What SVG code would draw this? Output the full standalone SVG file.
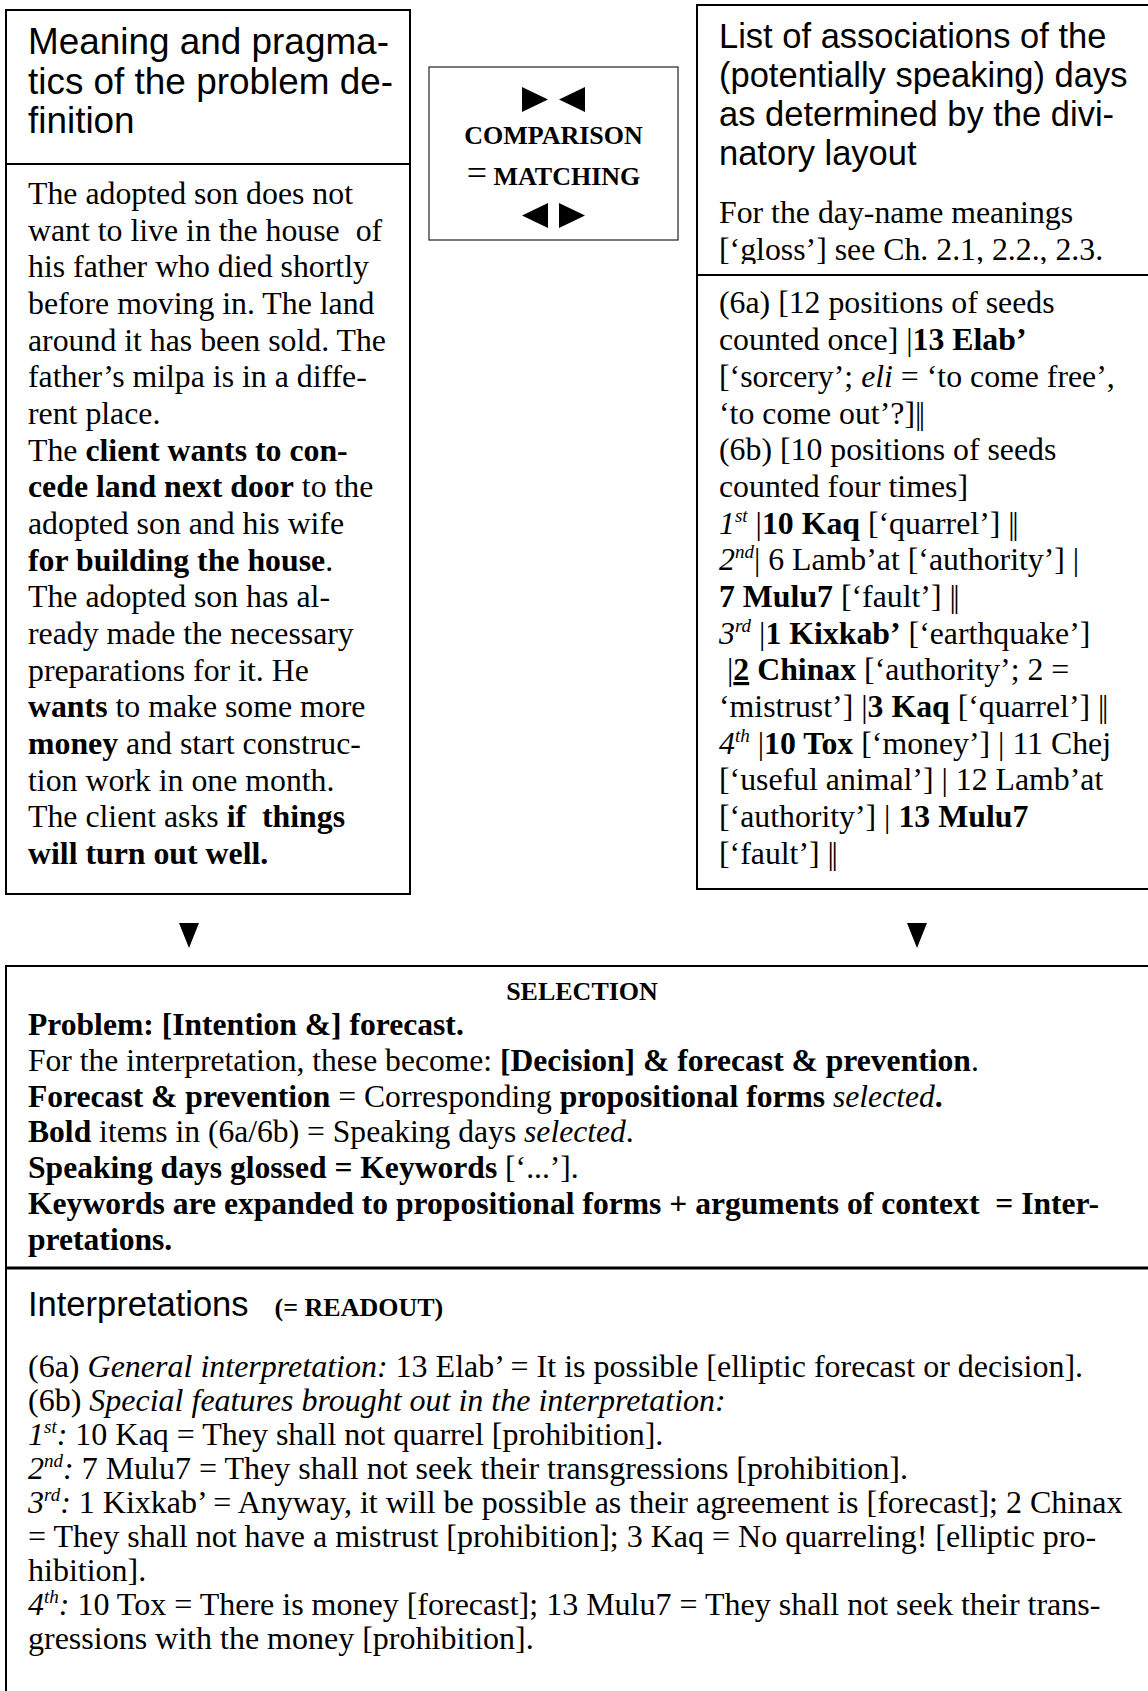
<svg xmlns="http://www.w3.org/2000/svg" width="1148" height="1691" viewBox="0 0 1148 1691">
<style>
.box{fill:#fff;stroke:#000;stroke-width:2}
.thin{fill:#fff;stroke:#222;stroke-width:1.2}
.hd{font-family:"Liberation Sans",Arial,sans-serif;fill:#000}
.tx{font-family:"Liberation Serif","Times New Roman",serif;font-size:31.8px;fill:#000}
.bt{font-family:"Liberation Serif","Times New Roman",serif;font-size:32px;fill:#000}
.st{font-family:"Liberation Serif","Times New Roman",serif;font-size:31.6px;fill:#000}
.b{font-weight:bold}
.i{font-style:italic}
.bar{font-weight:normal;font-style:normal}
.dbl{font-weight:normal;font-style:normal;letter-spacing:-2.5px}
.cap{font-family:"Liberation Serif","Times New Roman",serif;font-weight:bold;font-size:26px;fill:#000}
.sup{font-style:italic;font-size:19px}
.tri{fill:#000}
</style>
<defs>
<clipPath id="clipGloss"><rect x="690" y="170" width="460" height="94"/></clipPath>
</defs>

<g id="problem-definition">
<rect class="box" x="6" y="10" width="404" height="884"/>
<line x1="6" y1="164" x2="410" y2="164" stroke="#000" stroke-width="2"/>
<text class="hd" font-size="36.9" x="28" y="54">Meaning and pragma-</text>
<text class="hd" font-size="36.9" x="28" y="94">tics of the problem de-</text>
<text class="hd" font-size="36.9" x="28" y="133">finition</text>
<text class="tx" x="28" y="204">The adopted son does not</text>
<text class="tx" x="28" y="240.7">want to live in the house&#160; of</text>
<text class="tx" x="28" y="277.3">his father who died shortly</text>
<text class="tx" x="28" y="314">before moving in. The land</text>
<text class="tx" x="28" y="350.7">around it has been sold. The</text>
<text class="tx" x="28" y="387.3">father’s milpa is in a diffe-</text>
<text class="tx" x="28" y="424">rent place.</text>
<text class="tx" x="28" y="460.7">The <tspan class="b">client wants to con-</tspan></text>
<text class="tx" x="28" y="497.3"><tspan class="b">cede land next door</tspan> to the</text>
<text class="tx" x="28" y="534">adopted son and his wife</text>
<text class="tx" x="28" y="570.7"><tspan class="b">for building the house</tspan>.</text>
<text class="tx" x="28" y="607.3">The adopted son has al-</text>
<text class="tx" x="28" y="644">ready made the necessary</text>
<text class="tx" x="28" y="680.7">preparations for it. He</text>
<text class="tx" x="28" y="717.3"><tspan class="b">wants</tspan> to make some more</text>
<text class="tx" x="28" y="754"><tspan class="b">money</tspan> and start construc-</text>
<text class="tx" x="28" y="790.7">tion work in one month.</text>
<text class="tx" x="28" y="827.3">The client asks <tspan class="b">if&#160; things</tspan></text>
<text class="tx" x="28" y="864"><tspan class="b">will turn out well.</tspan></text>
</g>

<g id="comparison">
<rect class="thin" x="429" y="67" width="249" height="173"/>
<polygon class="tri" points="522,87 548,99.5 522,112"/>
<polygon class="tri" points="585,87 559,99.5 585,112"/>
<text class="cap" text-anchor="middle" x="553.5" y="144">COMPARISON</text>
<text class="cap" text-anchor="middle" x="553.5" y="185"><tspan font-weight="normal" font-size="36">=</tspan> MATCHING</text>
<polygon class="tri" points="548,203 522,215.5 548,228"/>
<polygon class="tri" points="559,203 585,215.5 559,228"/>
</g>

<g id="associations">
<rect class="box" x="697" y="5" width="460" height="884"/>
<line x1="697" y1="275" x2="1150" y2="275" stroke="#000" stroke-width="2"/>
<text class="hd" font-size="34.5" x="719" y="48">List of associations of the</text>
<text class="hd" font-size="34.5" x="719" y="87">(potentially speaking) days</text>
<text class="hd" font-size="34.5" x="719" y="126">as determined by the divi-</text>
<text class="hd" font-size="34.5" x="719" y="165">natory layout</text>
<text class="tx" x="719" y="223">For the day-name meanings</text>
<g clip-path="url(#clipGloss)">
<text class="tx" x="719" y="260">[‘gloss’] see Ch. 2.1, 2.2., 2.3.</text>
</g>
<text class="tx" x="719" y="313">(6a) [12 positions of seeds</text>
<text class="tx" x="719" y="350">counted once] <tspan class="bar">|</tspan><tspan class="b">13 Elab’</tspan></text>
<text class="tx" x="719" y="387">[‘sorcery’; <tspan class="i">eli</tspan> = ‘to come free’,</text>
<text class="tx" x="719" y="423.5">‘to come out’?]<tspan class="dbl">||</tspan></text>
<text class="tx" x="719" y="460">(6b) [10 positions of seeds</text>
<text class="tx" x="719" y="497">counted four times]</text>
<text class="tx" x="719" y="533.5"><tspan class="i">1</tspan><tspan class="sup" dy="-12">st</tspan><tspan dy="12"> </tspan><tspan class="bar">|</tspan><tspan class="b">10 Kaq</tspan> [‘quarrel’] <tspan class="dbl">||</tspan></text>
<text class="tx" x="719" y="570"><tspan class="i">2</tspan><tspan class="sup" dy="-12">nd</tspan><tspan class="bar" dy="12">|</tspan> 6 Lamb’at [‘authority’] <tspan class="bar">|</tspan></text>
<text class="tx" x="719" y="607"><tspan class="b">7 Mulu7</tspan> [‘fault’] <tspan class="dbl">||</tspan></text>
<text class="tx" x="719" y="643.5"><tspan class="i">3</tspan><tspan class="sup" dy="-12">rd</tspan><tspan dy="12"> </tspan><tspan class="bar">|</tspan><tspan class="b">1 Kixkab’</tspan> [‘earthquake’]</text>
<text class="tx" x="719" y="680"><tspan class="bar">&#160;|</tspan><tspan class="b" text-decoration="underline">2</tspan><tspan class="b"> Chinax</tspan> [‘authority’; 2 =</text>
<text class="tx" x="719" y="717">‘mistrust’] <tspan class="bar">|</tspan><tspan class="b">3 Kaq</tspan> [‘quarrel’] <tspan class="dbl">||</tspan></text>
<text class="tx" x="719" y="753.5"><tspan class="i">4</tspan><tspan class="sup" dy="-12">th</tspan><tspan dy="12"> </tspan><tspan class="bar">|</tspan><tspan class="b">10 Tox</tspan> [‘money’] <tspan class="bar">|</tspan> 11 Chej</text>
<text class="tx" x="719" y="790">[‘useful animal’] <tspan class="bar">|</tspan> 12 Lamb’at</text>
<text class="tx" x="719" y="827">[‘authority’] <tspan class="bar">|</tspan> <tspan class="b">13 Mulu7</tspan></text>
<text class="tx" x="719" y="863.5">[‘fault’] <tspan class="dbl">||</tspan></text>
</g>

<g id="connectors">
<polygon class="tri" points="179,923 199,923 189,948"/>
<polygon class="tri" points="907,923 927,923 917,948"/>
</g>

<g id="selection">
<rect class="box" x="6" y="966" width="1150" height="740" stroke-width="2.5"/>
<line x1="6" y1="1268" x2="1150" y2="1268" stroke="#000" stroke-width="3"/>
<text class="cap" text-anchor="middle" x="582" y="1000">SELECTION</text>
<text class="st b" x="28" y="1035">Problem: [Intention &amp;] forecast.</text>
<text class="st" x="28" y="1070.8">For the interpretation, these become: <tspan class="b">[Decision] &amp; forecast &amp; prevention</tspan>.</text>
<text class="st" x="28" y="1106.6"><tspan class="b">Forecast &amp; prevention</tspan> = Corresponding <tspan class="b">propositional forms</tspan> <tspan class="i">selected</tspan><tspan class="b">.</tspan></text>
<text class="st" x="28" y="1142.4"><tspan class="b">Bold</tspan> items in (6a/6b) = Speaking days <tspan class="i">selected</tspan>.</text>
<text class="st" x="28" y="1178.2"><tspan class="b">Speaking days glossed = Keywords</tspan> [‘...’].</text>
<text class="st b" x="28" y="1214">Keywords are expanded to propositional forms + arguments of context&#160; = Inter-</text>
<text class="st b" x="28" y="1249.8">pretations.</text>
</g>

<g id="interpretations">
<text x="28" y="1316"><tspan class="hd" font-size="34.5">Interpretations</tspan><tspan class="cap" font-size="21">&#160;&#160;&#160; (= READOUT)</tspan></text>
<text class="bt" x="28" y="1376.5">(6a) <tspan class="i">General interpretation:</tspan> 13 Elab’ = It is possible [elliptic forecast or decision].</text>
<text class="bt" x="28" y="1410.6">(6b) <tspan class="i">Special features brought out in the interpretation:</tspan></text>
<text class="bt" x="28" y="1444.6"><tspan class="i">1</tspan><tspan class="sup" dy="-12">st</tspan><tspan class="i" dy="12">:</tspan> 10 Kaq = They shall not quarrel [prohibition].</text>
<text class="bt" x="28" y="1478.7"><tspan class="i">2</tspan><tspan class="sup" dy="-12">nd</tspan><tspan class="i" dy="12">:</tspan> 7 Mulu7 = They shall not seek their transgressions [prohibition].</text>
<text class="bt" x="28" y="1512.7"><tspan class="i">3</tspan><tspan class="sup" dy="-12">rd</tspan><tspan class="i" dy="12">:</tspan> 1 Kixkab’ = Anyway, it will be possible as their agreement is [forecast]; 2 Chinax</text>
<text class="bt" x="28" y="1546.8">= They shall not have a mistrust [prohibition]; 3 Kaq = No quarreling! [elliptic pro-</text>
<text class="bt" x="28" y="1580.8">hibition].</text>
<text class="bt" x="28" y="1614.9"><tspan class="i">4</tspan><tspan class="sup" dy="-12">th</tspan><tspan class="i" dy="12">:</tspan> 10 Tox = There is money [forecast]; 13 Mulu7 = They shall not seek their trans-</text>
<text class="bt" x="28" y="1648.9">gressions with the money [prohibition].</text>
</g>
</svg>
